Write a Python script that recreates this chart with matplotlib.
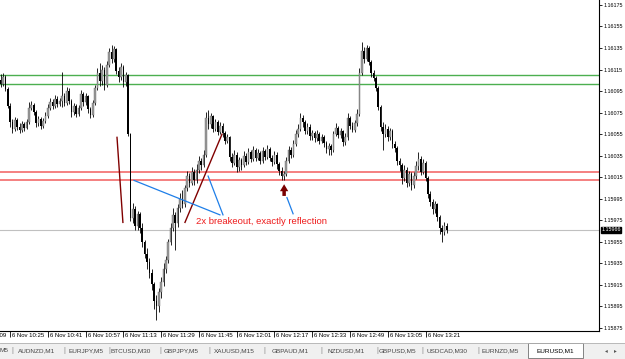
import numpy as np
import matplotlib.pyplot as plt
from matplotlib.transforms import blended_transform_factory, ScaledTranslation
from matplotlib.patches import Rectangle

plt.rcParams['font.family'] = ['Liberation Sans', 'DejaVu Sans']

# EURUSD M1, first bar 10:21; prices stored as points above 1.15000
start_min = 10 * 60 + 21
open0 = 1105
close_pts = [
    1102, 1108, 1097, 1081, 1066, 1060, 1068, 1062, 1059, 1064,
    1061, 1066, 1079, 1082, 1076, 1065, 1069, 1063, 1067, 1072,
    1079, 1085, 1081, 1088, 1083, 1086, 1090, 1084, 1095, 1086,
    1076, 1081, 1074, 1079, 1092, 1085, 1090, 1078, 1073, 1084,
    1098, 1112, 1104, 1115, 1101, 1119, 1131, 1125, 1134, 1114,
    1108, 1117, 1103, 1110, 1055, 977, 985, 970, 981, 968,
    955, 944, 936, 926, 916, 900, 895, 908, 918, 930,
    938, 955, 968, 980, 972, 986, 995, 990, 1005, 1016,
    1010, 1020, 1012, 1022, 1030, 1026, 1036, 1070, 1064, 1072,
    1060, 1066, 1057, 1063, 1056, 1049, 1052, 1034, 1028, 1036,
    1024, 1031, 1026, 1035, 1029, 1038, 1032, 1040, 1033, 1037,
    1030, 1039, 1034, 1041, 1033, 1029, 1036, 1027, 1021, 1016,
    1018, 1030, 1040, 1036, 1046, 1055, 1060, 1070, 1066, 1058,
    1062, 1053, 1056, 1051, 1055, 1049, 1052, 1047, 1041, 1044,
    1040, 1055, 1061, 1054, 1058, 1048, 1052, 1070, 1063, 1059,
    1065, 1074, 1112, 1132, 1125, 1135, 1122, 1112, 1107, 1098,
    1080, 1062, 1055, 1060, 1052, 1058, 1046, 1042, 1030, 1026,
    1014, 1022, 1010, 1018, 1008, 1016, 1025, 1032, 1020, 1028,
    1014, 999, 992, 985, 990, 978, 968, 964, 970, 966,
]
high_pts = [
    1111, 1112, 1110, 1099, 1084, 1069, 1071, 1070, 1065, 1067,
    1066, 1069, 1085, 1086, 1084, 1077, 1072, 1071, 1070, 1076,
    1083, 1089, 1088, 1091, 1090, 1089, 1113, 1093, 1099, 1098,
    1088, 1084, 1083, 1082, 1096, 1094, 1093, 1091, 1080, 1087,
    1101, 1116, 1121, 1119, 1117, 1123, 1135, 1138, 1137, 1135,
    1117, 1121, 1119, 1113, 1111, 1056, 991, 988, 984, 983,
    972, 957, 949, 940, 930, 918, 906, 912, 922, 935,
    942, 958, 972, 986, 983, 990, 1000, 1003, 1008, 1021,
    1019, 1024, 1023, 1027, 1035, 1033, 1040, 1076, 1077, 1075,
    1073, 1069, 1068, 1066, 1065, 1058, 1055, 1053, 1037, 1040,
    1038, 1034, 1033, 1039, 1037, 1042, 1040, 1044, 1042, 1041,
    1039, 1043, 1041, 1045, 1043, 1036, 1039, 1038, 1029, 1024,
    1021, 1034, 1044, 1043, 1050, 1059, 1064, 1075, 1073, 1068,
    1065, 1064, 1059, 1058, 1059, 1057, 1055, 1054, 1049, 1047,
    1046, 1058, 1065, 1063, 1061, 1059, 1056, 1075, 1072, 1066,
    1068, 1078, 1116, 1141, 1136, 1138, 1137, 1124, 1115, 1109,
    1100, 1082, 1066, 1064, 1063, 1061, 1060, 1049, 1044, 1033,
    1028, 1026, 1024, 1021, 1020, 1020, 1030, 1038, 1035, 1032,
    1030, 1016, 1002, 995, 993, 991, 980, 971, 973, 972,
]
low_pts = [
    1099, 1100, 1095, 1079, 1062, 1056, 1058, 1059, 1056, 1057,
    1058, 1060, 1064, 1077, 1073, 1062, 1063, 1060, 1061, 1065,
    1070, 1077, 1078, 1079, 1080, 1081, 1080, 1081, 1082, 1083,
    1071, 1073, 1071, 1072, 1077, 1081, 1082, 1075, 1070, 1071,
    1082, 1096, 1100, 1101, 1096, 1099, 1117, 1121, 1122, 1111,
    1103, 1105, 1099, 1100, 1053, 974, 972, 966, 966, 963,
    950, 940, 930, 921, 910, 893, 882, 890, 903, 914,
    926, 935, 952, 965, 947, 969, 983, 986, 987, 1002,
    1006, 1008, 1008, 1010, 1019, 1022, 1024, 1034, 1060, 1061,
    1057, 1058, 1054, 1055, 1052, 1046, 1047, 1030, 1024, 1026,
    1020, 1021, 1022, 1024, 1026, 1027, 1029, 1030, 1030, 1031,
    1027, 1028, 1031, 1032, 1030, 1025, 1027, 1023, 1017, 1012,
    1012, 1016, 1028, 1033, 1034, 1044, 1052, 1058, 1062, 1055,
    1055, 1050, 1050, 1048, 1049, 1046, 1047, 1043, 1037, 1036,
    1036, 1038, 1053, 1051, 1051, 1044, 1045, 1050, 1060, 1057,
    1057, 1063, 1072, 1110, 1121, 1123, 1119, 1108, 1104, 1095,
    1077, 1058, 1040, 1052, 1049, 1050, 1042, 1038, 1026, 1021,
    1009, 1011, 1006, 1007, 1003, 1005, 1013, 1022, 1017, 1018,
    1011, 996, 988, 981, 982, 974, 962, 955, 961, 963,
]

green_levels = [1.16110, 1.16102]
red_levels = [1.16020, 1.16012]
time_labels = ["10:09", "10:25", "10:41", "10:57", "11:13", "11:29", "11:45",
               "12:01", "12:17", "12:33", "12:49", "13:05", "13:21"]
price_ticks = np.arange(1.15875, 1.16176, 0.0002)

# hand-drawn objects: (bar index, price)
dark_lines = [[(49.3, 1.16052), (51.8, 1.15973)],
              [(78.1, 1.15973), (93.8, 1.16055)]]
blue_lines = [[(56.5, 1.16012), (92.9, 1.15980)],
              [(87.9, 1.16016), (94.2, 1.15980)],
              [(121.3, 1.15996), (123.9, 1.15981)]]
arrow_tail = (120.1, 1.15995)
arrow_tip = (120.1, 1.16011)
note_pos = (82.8, 1.15974)
note_text = "2x breakeout, exactly reflection"

tabs = ["M5", "AUDNZD,M1", "EURJPY,M5", "BTCUSD,M30", "GBPJPY,M5", "XAUUSD,M15",
        "GBPAUD,M1", "NZDUSD,M1", "GBPUSD,M5", "USDCAD,M30", "EURNZD,M5"]
tab_cx = [4, 37, 86, 131, 181, 234, 290, 346, 397, 447, 500]
tab_sep = [12, 64, 109, 160, 209, 264, 321, 377, 422, 478]
active_tab = "EURUSD,M1"

c = 1.15 + np.array(close_pts) / 1e5
o = np.concatenate([[1.15 + open0 / 1e5], c[:-1]])
h = 1.15 + np.array(high_pts) / 1e5
l = 1.15 + np.array(low_pts) / 1e5
idx = np.arange(len(c))

W, H = 625, 359
fig = plt.figure(figsize=(W / 100, H / 100), dpi=100)
ax = fig.add_axes([0, 28 / H, 599 / W, 331 / H])

ax.set_xlim(-0.27, 253.5)
ax.set_ylim(1.158721, 1.161796)

for lv in green_levels:
    ax.axhline(lv, color='#4caf50', lw=1.0, zorder=1)
for lv in red_levels:
    ax.axhline(lv, color='#f26b6b', lw=1.2, zorder=1)
ax.axhline(c[-1], color='#c0c0c0', lw=0.8, zorder=1)

up = c >= o
ax.vlines(idx, l, h, color='black', lw=0.6, zorder=2)
ax.bar(idx[up], (c - o)[up], bottom=o[up], width=0.7, color='#9a9a9a',
       edgecolor='#6a6a6a', lw=0.3, zorder=3)
ax.bar(idx[~up], (c - o)[~up], bottom=o[~up], width=0.7, color='black', lw=0, zorder=3)

for seg in dark_lines:
    ax.plot([p[0] for p in seg], [p[1] for p in seg], color='#800000', lw=1.0, zorder=4)
for seg in blue_lines:
    ax.plot([p[0] for p in seg], [p[1] for p in seg], color='#1e7ee8', lw=0.9, zorder=4)
ax.annotate('', xy=arrow_tip, xytext=arrow_tail,
            arrowprops=dict(arrowstyle='simple,head_width=0.6,head_length=0.5,tail_width=0.25',
                            color='#7a0000', lw=0), zorder=5)
ax.text(note_pos[0], note_pos[1], note_text, color='#ee1c1c', fontsize=6.8,
        ha='left', va='center', zorder=5)

# price scale
ax.yaxis.tick_right()
ax.set_yticks(price_ticks)
ax.set_yticklabels(['%.5f' % p for p in price_ticks])
ax.tick_params(axis='y', direction='out', length=2.5, width=0.6, pad=1.0, labelsize=3.9)
ax.annotate('%.5f' % c[-1], xy=(1, c[-1]), xycoords=('axes fraction', 'data'),
            xytext=(1.6, 0), textcoords='offset points', fontsize=3.9, color='white',
            va='center', ha='left',
            bbox=dict(boxstyle='square,pad=0.12', fc='black', ec='black'))

# time scale
tick_idx = [int(t[:2]) * 60 + int(t[3:]) - start_min for t in time_labels]
ax.set_xticks([t for t in tick_idx if t >= 0])
ax.set_xticklabels([])
ax.tick_params(axis='x', direction='out', length=4, width=0.6)
tr = blended_transform_factory(ax.transData, ax.transAxes) + ScaledTranslation(2 / 100, -2 / 100, fig.dpi_scale_trans)
for t, lab in zip(tick_idx, time_labels):
    ax.text(t, 0, '6 Nov ' + lab, transform=tr, fontsize=4.3, ha='left', va='top', clip_on=False)

for s in ['top', 'left']:
    ax.spines[s].set_visible(False)
ax.spines['right'].set_linewidth(0.8)
ax.spines['bottom'].set_linewidth(0.8)

# tab bar
fig.patches.append(Rectangle((0, 0), 1, 16 / H, transform=fig.transFigure,
                             fc='#f0f0f0', ec='none', zorder=0))
fig.lines.append(plt.Line2D([0, 1], [16 / H, 16 / H], transform=fig.transFigure,
                            color='#b0b0b0', lw=0.6))
for name, cx in zip(tabs, tab_cx):
    fig.text(cx / W, 8 / H, name, fontsize=4.6, color='#444444', ha='center', va='center')
for sx in tab_sep:
    fig.text(sx / W, 8 / H, '|', fontsize=5, color='#888888', ha='center', va='center')
fig.patches.append(Rectangle((528 / W, 1 / H), 55 / W, 15 / H, transform=fig.transFigure,
                             fc='white', ec='#707070', lw=0.6, zorder=1))
fig.text(555 / W, 8 / H, active_tab, fontsize=4.6, color='black', ha='center', va='center', zorder=2)
fig.text(606 / W, 8 / H, '\u25c2', fontsize=4, color='#555555', ha='center', va='center')
fig.text(615 / W, 8 / H, '\u25b8', fontsize=4, color='#555555', ha='center', va='center')

fig.savefig('out.png', dpi=100)
